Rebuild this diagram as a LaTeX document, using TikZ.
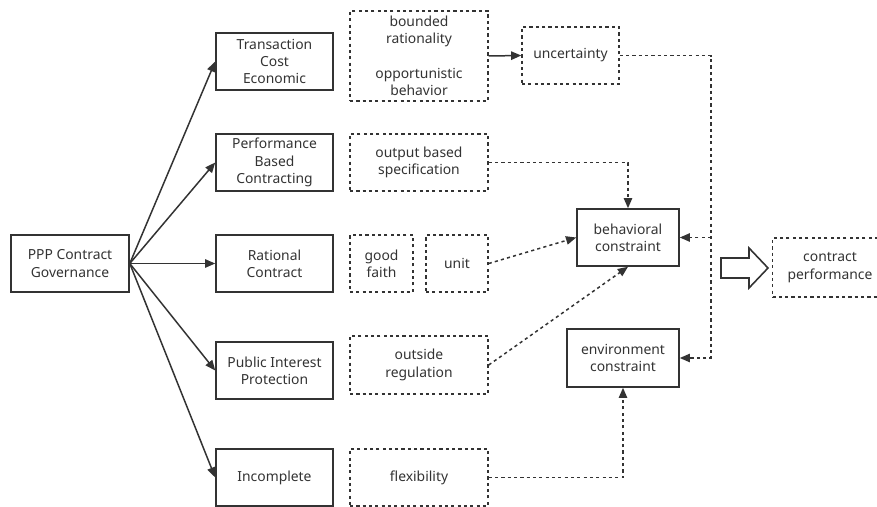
\documentclass[tikz,border=0pt]{standalone}
\usepackage{fontspec}
\setmainfont{Noto Sans}
\usetikzlibrary{arrows.meta}
\definecolor{inkgray}{HTML}{333333}

\begin{document}
\begin{tikzpicture}[
    x=0.02cm, y=-0.02cm,
    >={Triangle[length=5.8pt,width=4.8pt]},
    every node/.style={
        text=inkgray,
        align=center,
        inner sep=1pt,
        font=\fontsize{7.9pt}{9.9pt}\selectfont
    },
    solidbox/.style={
        draw=inkgray,
        line width=0.9pt,
        minimum width=2.34cm,
        minimum height=1.14cm
    },
    dotbox/.style={
        draw=inkgray,
        line width=0.85pt,
        dash pattern=on 1.8pt off 1.8pt,
        minimum width=2.76cm,
        minimum height=1.14cm
    },
    arr/.style={->, line width=0.85pt, draw=inkgray},
    dotarr/.style={->, line width=0.85pt, draw=inkgray,
        dash pattern=on 1.8pt off 1.8pt}
]
    \useasboundingbox (0,0) rectangle (877,507);

    \node[solidbox, minimum width=2.36cm] (ppp) at (70,263.5)
        {PPP Contract\\Governance};

    \node[solidbox] (tce) at (274.5,61.5) {Transaction\\Cost\\Economic};
    \node[solidbox] (pbc) at (274.5,162.5) {Performance\\Based\\Contracting};
    \node[solidbox] (rat) at (274.5,263.5) {Rational\\Contract};
    \node[solidbox] (pub) at (274.5,370.5) {Public Interest\\Protection};
    \node[solidbox] (inc) at (274.5,477.5) {Incomplete};

    \node[dotbox, minimum height=1.8cm] (bnd) at (419,56)
        {bounded\\rationality\\[9.9pt]opportunistic\\behavior};
    \node[dotbox] (obs) at (419,162.5) {output based\\specification};
    \node[dotbox, minimum width=1.26cm] (good) at (381.5,263.5) {good\\faith};
    \node[dotbox, minimum width=1.24cm] (unit) at (457,263.5) {unit};
    \node[dotbox, minimum height=1.16cm] (outs) at (419,365)
        {outside\\regulation};
    \node[dotbox] (flex) at (419,477.5) {flexibility};

    \node[dotbox, minimum width=1.94cm] (unc) at (570.5,55.5) {uncertainty};
    \node[solidbox, minimum width=2.04cm] (beh) at (628,237.5)
        {behavioral\\constraint};
    \node[solidbox, minimum width=2.24cm, minimum height=1.16cm] (env)
        at (623,358) {environment\\constraint};
    \node[dotbox, minimum width=2.3cm, minimum height=1.18cm] (perf)
        at (830,267.5) {contract\\performance};

    \draw[arr] (ppp.east) -- (tce.west);
    \draw[arr] (ppp.east) -- (pbc.west);
    \draw[arr] (ppp.east) -- (rat.west);
    \draw[arr] (ppp.east) -- (pub.west);
    \draw[arr] (ppp.east) -- (inc.west);

    \draw[arr] (bnd.east) -- (unc.west);

    \coordinate (rail) at (711,55.5);
    \draw[dotarr] (unc.east) -- (rail) |- (env.east);
    \draw[dotarr] (rail |- beh.east) -- (beh.east);
    \draw[dotarr] (obs.east) -| (beh.north);
    \draw[dotarr] (unit.east) -- (beh.west);
    \draw[dotarr] (outs.east) -- (beh.south);
    \draw[dotarr] (flex.east) -| (env.south);

    \draw[draw=inkgray, line width=0.9pt, line join=miter]
        (721,258) -- (749,258) -- (749,248) -- (768,268)
        -- (749,288) -- (749,278) -- (721,278) -- cycle;
\end{tikzpicture}
\end{document}
